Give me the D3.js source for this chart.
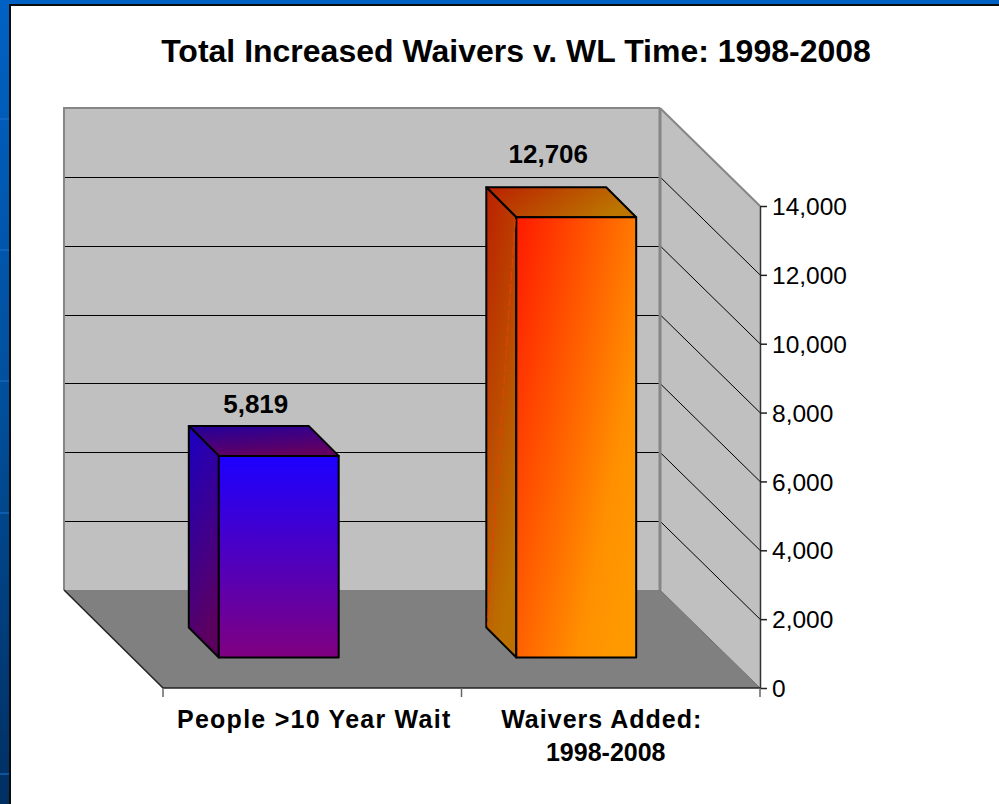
<!DOCTYPE html>
<html>
<head>
<meta charset="utf-8">
<script src="https://cdn.jsdelivr.net/npm/d3@7"></script>
<style>
  html, body { margin: 0; padding: 0; background: #fff; overflow: hidden; }
  svg { display: block; }
  text { font-family: "Liberation Sans", Arial, sans-serif; fill: #000; }
</style>
</head>
<body>
<div id="chart"></div>
<script>
// chart data
var categories = ["People >10 Year Wait", "Waivers Added:|1998-2008"];
var values = [5819, 12706];
var yTicks = [0, 2000, 4000, 6000, 8000, 10000, 12000, 14000];
var gridTicks = [2000, 4000, 6000, 8000, 10000, 12000];

var svgWidth = 999;
var svgHeight = 804;

// the 3d box: front plane, back plane and the depth between them
var front = { left: 163, right: 760, top: 206, bottom: 688 };
var depth = { x: 99, y: 98 };
var barDepth = 30;

var $svg = d3.select("#chart")
  .append("svg")
  .attr("width", svgWidth)
  .attr("height", svgHeight);

var defs = $svg.append("defs");

function addGradient(id, x2, y2, stops) {
  var g = defs.append("linearGradient")
    .attr("id", id)
    .attr("x1", 0).attr("y1", 0)
    .attr("x2", x2).attr("y2", y2);
  stops.forEach(function(s) {
    g.append("stop").attr("offset", s[0]).attr("stop-color", s[1]);
  });
}

addGradient("bgBlue", 0, 1, [[0, "#0061c4"], [0.5, "#004f9c"], [1, "#002f62"]]);
addGradient("front0", 0, 1, [[0, "#1c00ff"], [1, "#800080"]]);
addGradient("side0", 0.25, 1, [[0, "#1a00c4"], [1, "#5c0060"]]);
addGradient("top0", 0.35, 1, [[0, "#22009c"], [1, "#620062"]]);
addGradient("front1", 1, 0.75, [[0, "#ff1a00"], [0.8, "#ff9000"], [1, "#ff9900"]]);
addGradient("side1", 0.35, 1, [[0, "#bb2000"], [1, "#bc7000"]]);
addGradient("top1", 1, 0.3, [[0, "#bb2000"], [1, "#bb7500"]]);

// slide background behind the white panel
$svg.append("rect")
  .attr("width", svgWidth)
  .attr("height", svgHeight)
  .attr("fill", "url(#bgBlue)");

[119, 250, 381, 513, 774].forEach(function(y) {
  $svg.append("rect")
    .attr("x", 0).attr("y", y - 1)
    .attr("width", 10).attr("height", 2)
    .attr("fill", "#1a70c8")
    .attr("opacity", 0.55);
});

$svg.append("rect")
  .attr("x", 10).attr("y", 5)
  .attr("width", svgWidth).attr("height", svgHeight)
  .attr("fill", "#fff")
  .attr("stroke", "#0b0b0b")
  .attr("stroke-width", 2);

// scales
var yFront = d3.scaleLinear()
  .domain([0, 14000])
  .range([front.bottom, front.top]);

var yBack = d3.scaleLinear()
  .domain([0, 14000])
  .range([front.bottom - depth.y, front.top - depth.y]);

// bars stand part way into the box and run a little taller than the axis
var yBar = d3.scaleLinear()
  .domain([0, 14000])
  .range([657.5, 172.5]);

var xFront = d3.scaleBand()
  .domain(categories)
  .range([front.left, front.right]);

var xBar = d3.scaleBand()
  .domain(categories)
  .range([130, 725])
  .paddingInner(0.597)
  .paddingOuter(0.2985);

var line = d3.line();

function poly(points, fill) {
  return $svg.append("path")
    .attr("d", line(points) + "Z")
    .attr("fill", fill);
}

var backLeft = front.left - depth.x;
var backRight = front.right - depth.x - 1;
var backTop = yBack(14000);
var backBottom = yBack(0);

// walls
poly([[backLeft, backTop], [backRight, backTop], [backRight, backBottom], [backLeft, backBottom]], "#c0c0c0");
poly([[backRight, backTop], [front.right, front.top], [front.right, front.bottom], [backRight, backBottom]], "#c0c0c0");

// gridlines, back wall and then along the side wall
$svg.selectAll("line.grid-back")
  .data(gridTicks)
  .enter()
  .append("line")
  .classed("grid-back", true)
  .attr("x1", backLeft)
  .attr("x2", backRight)
  .attr("y1", d => yBack(d) + 0.5)
  .attr("y2", d => yBack(d) + 0.5)
  .attr("stroke", "#000")
  .attr("stroke-width", 1)
  .attr("shape-rendering", "crispEdges");

$svg.selectAll("line.grid-side")
  .data(gridTicks)
  .enter()
  .append("line")
  .classed("grid-side", true)
  .attr("x1", backRight)
  .attr("x2", front.right)
  .attr("y1", d => yBack(d))
  .attr("y2", d => yFront(d))
  .attr("stroke", "#000")
  .attr("stroke-width", 1);

// floor
poly([[backLeft, backBottom], [backRight, backBottom], [front.right, front.bottom], [front.left, front.bottom]], "#808080");

// wall outlines
$svg.append("path")
  .attr("d", line([[backLeft, backBottom], [backLeft, backTop], [backRight, backTop]]))
  .attr("fill", "none")
  .attr("stroke", "#868686")
  .attr("stroke-width", 2);

$svg.append("path")
  .attr("d", line([[backRight, backTop], [backRight, backBottom]]))
  .attr("fill", "none")
  .attr("stroke", "#868686")
  .attr("stroke-width", 3);

$svg.append("path")
  .attr("d", line([[backRight, backTop], [front.right, front.top]]))
  .attr("fill", "none")
  .attr("stroke", "#868686")
  .attr("stroke-width", 2);

$svg.append("path")
  .attr("d", line([[backLeft, backBottom], [front.left, front.bottom]]))
  .attr("fill", "none")
  .attr("stroke", "#222")
  .attr("stroke-width", 1.5);

$svg.append("path")
  .attr("d", line([[backRight, backBottom], [front.right, front.bottom]]))
  .attr("fill", "none")
  .attr("stroke", "#6e6e6e")
  .attr("stroke-width", 1);

// bars
values.forEach(function(v, i) {
  var x0 = xBar(categories[i]);
  var x1 = x0 + xBar.bandwidth();
  var top = yBar(v);
  var base = yBar(0);
  var d = barDepth;

  var g = [
    poly([[x0 - d, top - d], [x1 - d, top - d], [x1, top], [x0, top]], "url(#top" + i + ")"),
    poly([[x0 - d, top - d], [x0, top], [x0, base], [x0 - d, base - d]], "url(#side" + i + ")"),
    poly([[x0, top], [x1, top], [x1, base], [x0, base]], "url(#front" + i + ")")
  ];
  g.forEach(function(p) {
    p.attr("stroke", "#000")
      .attr("stroke-width", 2)
      .attr("stroke-linejoin", "round");
  });

  // seam in the shaded side of the tall bar
  if (i == 1) {
    $svg.append("line")
      .attr("x1", x0 - 1).attr("y1", top + 2)
      .attr("x2", x0 - d + 1).attr("y2", base - d - 2)
      .attr("stroke", "#e8400a")
      .attr("stroke-width", 1)
      .attr("stroke-dasharray", "10 3");
  }

  // labels sit higher over the tall bar
  $svg.append("text")
    .attr("x", (x0 + x1) / 2 - (i == 0 ? 23 : 28))
    .attr("y", top - d - (i == 0 ? 13 : 24))
    .attr("text-anchor", "middle")
    .attr("font-size", "26px")
    .attr("font-weight", "bold")
    .text(d3.format(",")(v));
});

// value axis on the right
var yAxis = d3.axisRight(yFront)
  .tickValues(yTicks)
  .tickFormat(d3.format(","))
  .tickSize(7)
  .tickSizeOuter(0)
  .tickPadding(0);

var yAxisGroup = $svg.append("g")
  .attr("transform", `translate(${front.right}, 0)`)
  .call(yAxis);

yAxisGroup.select(".domain")
  .attr("stroke", "#333")
  .attr("stroke-width", 1.5);

yAxisGroup.selectAll("line")
  .attr("stroke", "#222")
  .attr("stroke-width", 1.5);

yAxisGroup.selectAll("text")
  .attr("font-size", "24.5px")
  .attr("font-family", "Liberation Sans, Arial, sans-serif")
  .attr("fill", "#000")
  .attr("x", 12)
  .attr("dy", "0.35em");

// category axis along the bottom of the floor
$svg.append("line")
  .attr("x1", front.left).attr("x2", front.right)
  .attr("y1", front.bottom).attr("y2", front.bottom)
  .attr("stroke", "#222")
  .attr("stroke-width", 1.5);

var catEdges = categories.map(c => xFront(c)).concat([front.right]);

$svg.selectAll("line.cat-tick")
  .data(catEdges)
  .enter()
  .append("line")
  .classed("cat-tick", true)
  .attr("x1", d => d).attr("x2", d => d)
  .attr("y1", front.bottom)
  .attr("y2", front.bottom + 9)
  .attr("stroke", "#666")
  .attr("stroke-width", 1.5);

categories.forEach(function(c, i) {
  var cx = xFront(c) + xFront.bandwidth() / 2;
  c.split("|").forEach(function(part, j) {
    $svg.append("text")
      .attr("x", cx + (i == 0 ? 2 : (j == 0 ? -9 : -5)))
      .attr("y", 728 + j * 33)
      .attr("text-anchor", "middle")
      .attr("font-size", "25px")
      .attr("font-weight", "bold")
      .attr("letter-spacing", j == 1 ? "0px" : (i == 0 ? "1.25px" : "1px"))
      .text(part);
  });
});

// title
$svg.append("text")
  .attr("x", 516)
  .attr("y", 62)
  .attr("text-anchor", "middle")
  .attr("font-size", "32px")
  .attr("font-weight", "bold")
  .text("Total Increased Waivers v. WL Time: 1998-2008");
</script>
</body>
</html>
